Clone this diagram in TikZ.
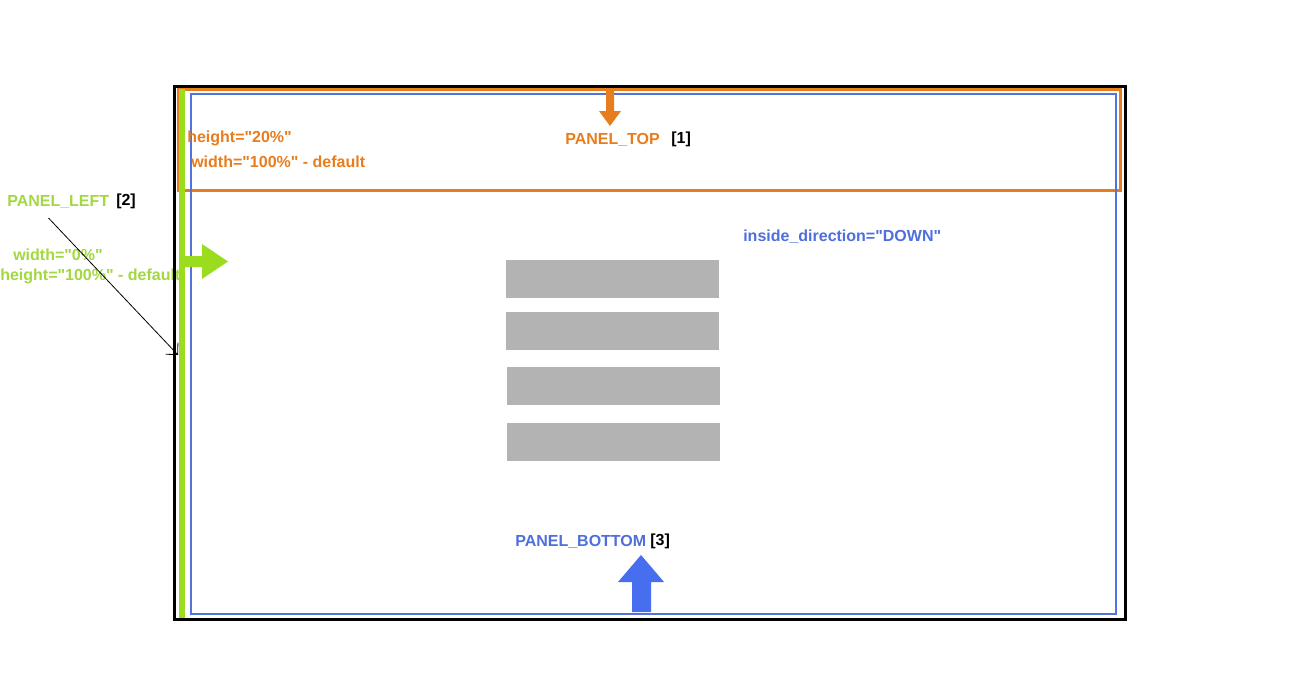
\documentclass[tikz,border=0pt]{standalone}
\usepackage{fontspec}
\setmainfont{Liberation Sans}[Ligatures=TeXOff]
\usetikzlibrary{arrows.meta}
\definecolor{porange}{HTML}{E87D1E}
\definecolor{pgreen}{HTML}{9BDC1E}
\definecolor{pgreentxt}{HTML}{A2D840}
\definecolor{pblue}{HTML}{5272DE}
\definecolor{pbluearrow}{HTML}{486EF0}
\definecolor{pbluetxt}{HTML}{4F6FDC}
\definecolor{pgray}{HTML}{B3B3B3}
\begin{document}
\begin{tikzpicture}[x=0.75pt,y=-0.75pt,
  lbl/.style={inner sep=0pt, anchor=base west, font=\bfseries\fontsize{12}{14}\selectfont},
  toptxt/.style={lbl, text=porange},
  lefttxt/.style={lbl, text=pgreentxt},
  bottxt/.style={lbl, text=pbluetxt},
  reftxt/.style={lbl, text=black},
  item/.style={fill=pgray, draw=none},
  pointer/.style={draw=black, line width=0.6pt, -{Straight Barb[angle=90:9pt, line width=0.6pt]}}]
\useasboundingbox[fill=white] (0,0) rectangle (1308,696);

% left panel text that sits under the frame
\node[lefttxt] (lh) at (0,280) {height="100\%" - default};

% panel top (orange)
\draw[porange, line width=2.25pt] (178.5,89) rectangle (1120.5,190.5);
% panel left (green bar)
\fill[pgreen] (179,89) rectangle (185,619);
% panel bottom (blue)
\draw[pblue, line width=1.5pt] (190.5,94) rectangle (1115.5,614);
% outer frame
\draw[black, line width=2.25pt] (174.5,86.5) rectangle (1125.5,619.5);

% orange down arrow
\fill[porange] (606,88) -- (614,88) -- (614,111) -- (621,111) -- (610,126)
  -- (599,111) -- (606,111) -- cycle;
% green right arrow
\fill[pgreen] (180,256) -- (202,256) -- (202,244) -- (228,261.5) -- (202,279)
  -- (202,267) -- (180,267) -- cycle;
% blue up arrow
\fill[pbluearrow] (632,612) -- (651,612) -- (651,582) -- (664,582) -- (641,555)
  -- (618,582) -- (632,582) -- cycle;

% content items
\path[item] (506,260) rectangle (718.5,297.5);
\path[item] (506,312) rectangle (718.5,349.5);
\path[item] (507,367) rectangle (719.5,404.5);
\path[item] (507,423) rectangle (719.5,460.5);

% texts
\node[toptxt] (th) at (187,142) {height="20\%"};
\node[toptxt] (tw) at (191,167) {width="100\%" - default};
\node[toptxt] (tn) at (565,144) {PANEL\_TOP};
\node[reftxt] (t1) at (671,143) {[1]};

\node[lefttxt] (ln) at (7,206.5) {PANEL\_LEFT};
\node[reftxt] (t2) at (116,205.5) {[2]};
\node[lefttxt] (lw) at (13,260) {width="0\%"};

\node[bottxt] (bd) at (743,241) {inside\_direction="DOWN"};
\node[bottxt] (bn) at (515,546) {PANEL\_BOTTOM};
\node[reftxt] (t3) at (650,545) {[3]};

% pointer line
\coordinate (ps) at (48.5,218);
\coordinate (pe) at (178,355);
\draw[pointer] (ps) -- (pe);
\end{tikzpicture}
\end{document}
